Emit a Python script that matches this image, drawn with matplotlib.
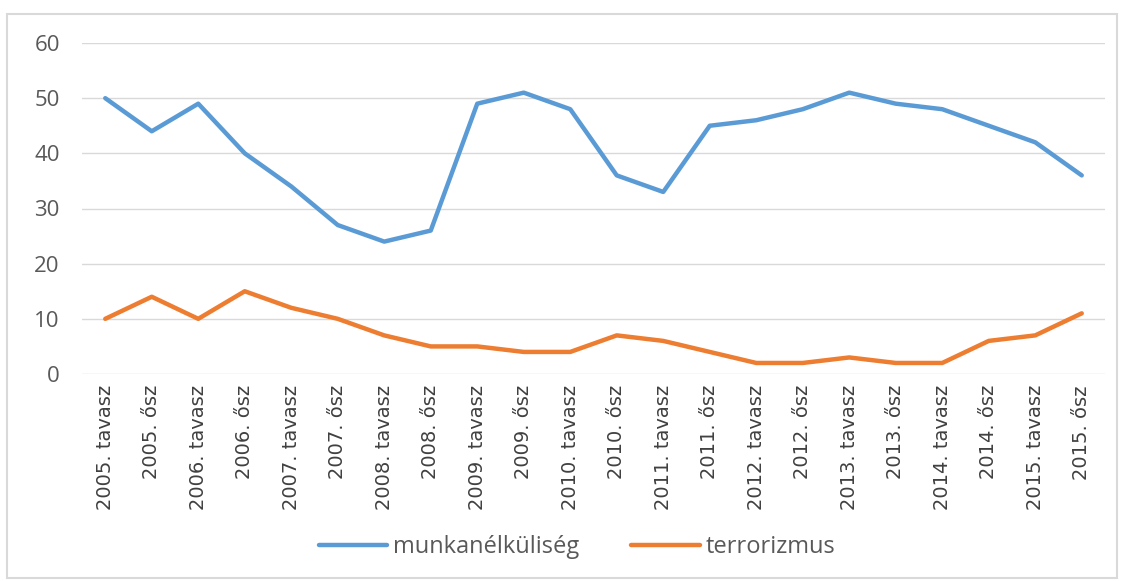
import matplotlib
matplotlib.use("Agg")
import matplotlib.pyplot as plt
from matplotlib.patches import Rectangle

categories = ["2005. tavasz", "2005. ősz", "2006. tavasz", "2006. ősz", "2007. tavasz", "2007. ősz",
              "2008. tavasz", "2008. ősz", "2009. tavasz", "2009. ősz", "2010. tavasz", "2010. ősz",
              "2011. tavasz", "2011. ősz", "2012. tavasz", "2012. ősz", "2013. tavasz", "2013. ősz",
              "2014. tavasz", "2014. ősz", "2015. tavasz", "2015. ősz"]
munkanelkuliseg = [50, 44, 49, 40, 34, 27, 24, 26, 49, 51, 48, 36, 33, 45, 46, 48, 51, 49, 48, 45, 42, 36]
terrorizmus = [10, 14, 10, 15, 12, 10, 7, 5, 5, 4, 4, 7, 6, 4, 2, 2, 3, 2, 2, 6, 7, 11]
yticks = [0, 10, 20, 30, 40, 50, 60]

fig = plt.figure(figsize=(11.25, 5.81), dpi=100)
fig.patch.set_facecolor("white")
fig.add_artist(Rectangle((7/1125, 1-578/581), 1110/1125, 564/581, transform=fig.transFigure,
                         fill=False, edgecolor="#d9d9d9", linewidth=1.5))

ax = fig.add_axes([82/1125, 1-374/581, 1023/1125, 331/581])
x = list(range(len(categories)))
l1, = ax.plot(x, munkanelkuliseg, color="#5b9bd5", linewidth=3.2, solid_joinstyle="round", solid_capstyle="round")
l2, = ax.plot(x, terrorizmus, color="#ed7d31", linewidth=3.2, solid_joinstyle="round", solid_capstyle="round")

ax.set_xlim(-0.5, len(categories) - 0.5)
ax.set_ylim(0, 60)
ax.set_yticks(yticks)
ax.set_yticklabels([str(v) for v in yticks], fontsize=16, color="#595959", family=["Open Sans", "DejaVu Sans"])
ax.set_xticks(x)
ax.set_xticklabels(categories, rotation=90, fontsize=14, color="#404040",
                   family=["Liberation Sans Narrow", "DejaVu Sans"])
ax.tick_params(axis="both", length=0)
ax.tick_params(axis="y", pad=16)
ax.tick_params(axis="x", pad=8)
ax.grid(axis="y", color="#d9d9d9", linewidth=1)
ax.set_axisbelow(True)
for s in ax.spines.values():
    s.set_visible(False)

leg = fig.legend([l1, l2], ["munkanélküliség", "terrorizmus"], loc="center", bbox_to_anchor=(577/1125, 1-547/581),
                 ncol=2, frameon=False, handlelength=2.9, handletextpad=0.25, columnspacing=2.2,
                 prop={"family": ["Open Sans", "DejaVu Sans"], "size": 17})
for t in leg.get_texts():
    t.set_color("#595959")

fig.savefig("out.png", dpi=100)
